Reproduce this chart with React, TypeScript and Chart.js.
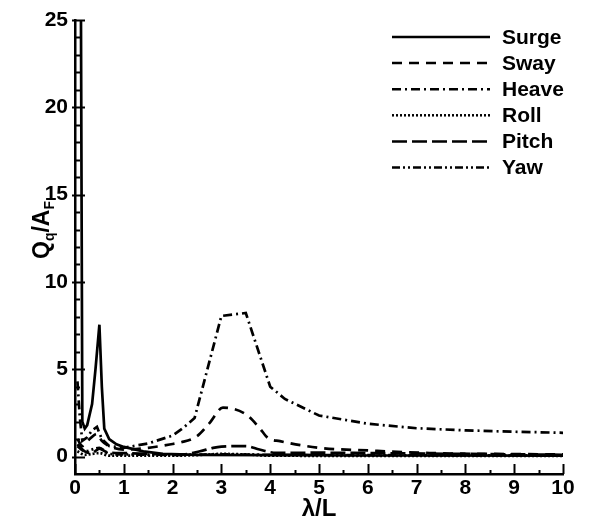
import { useEffect, useRef } from "react";
import { Chart, registerables } from "chart.js";

Chart.register(...registerables);

const seriesNames = ["Surge", "Sway", "Heave", "Roll", "Pitch", "Yaw"];

const surgeX = [0.12, 0.15, 0.2, 0.25, 0.35, 0.42, 0.5, 0.55, 0.6, 0.7, 0.85, 1.0, 1.4, 1.8, 2.5, 4, 6, 10];
const surgeY = [27, 2.0, 1.6, 1.8, 3.0, 5.0, 7.55, 4.0, 1.6, 1.0, 0.7, 0.55, 0.3, 0.15, 0.1, 0.08, 0.06, 0.05];

const swayX = [0.05, 0.15, 0.3, 0.45, 0.55, 0.7, 1.0, 1.5, 2.0, 2.15, 2.5, 2.76, 3.03, 3.5, 3.78, 3.95, 4.2, 5.0, 6.0, 7.26, 8.5, 10];
const swayY = [1.0, 0.6, 1.0, 1.3, 0.9, 0.6, 0.4, 0.5, 0.72, 0.8, 1.16, 1.93, 2.8, 2.42, 1.64, 1.07, 0.88, 0.5, 0.35, 0.2, 0.15, 0.12];

const heaveX = [0.05, 0.1, 0.15, 0.25, 0.35, 0.45, 0.55, 0.7, 1.0, 1.5, 2.0, 2.2, 2.45, 3.0, 3.5, 4.0, 4.3, 5.0, 6.0, 7.0, 8.0, 9.0, 10];
const heaveY = [4.3, 2.2, 0.9, 1.1, 1.5, 1.7, 1.0, 0.6, 0.5, 0.75, 1.2, 1.6, 2.2, 8.05, 8.22, 4.0, 3.3, 2.35, 1.88, 1.62, 1.5, 1.42, 1.36];

const rollX = [0.05, 0.2, 0.5, 0.7, 1, 2, 2.5, 3, 3.5, 4, 6, 10];
const rollY = [0.3, 0.1, 0.2, 0.05, 0.05, 0.05, 0.08, 0.15, 0.12, 0.05, 0.04, 0.03];

const pitchX = [0.05, 0.2, 0.35, 0.5, 0.65, 1.0, 1.5, 2.0, 2.15, 2.56, 2.83, 3.0, 3.5, 3.78, 4.12, 5, 6, 8, 10];
const pitchY = [0.7, 0.3, 0.2, 0.45, 0.25, 0.2, 0.15, 0.1, 0.1, 0.3, 0.5, 0.57, 0.6, 0.4, 0.21, 0.22, 0.2, 0.15, 0.1];

const yawX = [0.05, 0.2, 0.5, 0.7, 1.0, 2, 3, 4, 6, 10];
const yawY = [0.6, 0.3, 0.5, 0.15, 0.12, 0.1, 0.12, 0.1, 0.08, 0.06];

const xTickValues = [0, 1, 2, 3, 4, 5, 6, 7, 8, 9, 10];
const yTickValues = [0, 5, 10, 15, 20, 25];

const FONT = "'Liberation Sans', Arial, Helvetica, sans-serif";
const dashes: number[][] = [[], [10, 7], [9, 4, 2, 4], [2, 2], [15, 5], [8, 3, 2, 3, 2, 3]];
const tensions = [0, 0.3, 0, 0.3, 0.3, 0.3];

function pts(xs: number[], ys: number[]) {
  return xs.map((x, i) => ({ x, y: ys[i] }));
}

const decorPlugin = {
  id: "decor",
  afterDraw(chart: any) {
    const ctx = chart.ctx as CanvasRenderingContext2D;
    const xs = chart.scales.x;
    const ys = chart.scales.y;
    const { left, bottom } = chart.chartArea;
    ctx.save();
    ctx.strokeStyle = "#000";
    ctx.lineWidth = 2;
    ctx.setLineDash([]);
    // x ticks (inward)
    for (let i = 0; i <= 20; i++) {
      const v = i * 0.5;
      const px = Math.round(xs.getPixelForValue(v)) + 0.5;
      const major = i % 2 === 0;
      ctx.beginPath();
      ctx.moveTo(px, bottom);
      ctx.lineTo(px, bottom - (major ? 10 : 4));
      ctx.stroke();
    }
    // y ticks (inward)
    for (let v = 0; v <= 25; v++) {
      const py = Math.round(ys.getPixelForValue(v)) + 0.5;
      const major = v % 5 === 0;
      ctx.beginPath();
      ctx.moveTo(left - (major ? 3 : 0), py);
      ctx.lineTo(left + (major ? 10 : 5), py);
      ctx.stroke();
    }
    // legend
    const ds = chart.data.datasets;
    for (let i = 0; i < ds.length; i++) {
      const y = 37 + 26.1 * i;
      ctx.lineWidth = 2.5;
      ctx.setLineDash(dashes[i]);
      ctx.beginPath();
      ctx.moveTo(392, y);
      ctx.lineTo(490, y);
      ctx.stroke();
      ctx.setLineDash([]);
      ctx.fillStyle = "#000";
      ctx.font = `bold 21px ${FONT}`;
      ctx.textAlign = "left";
      ctx.textBaseline = "middle";
      ctx.fillText(ds[i].label, 502, y + 1);
    }
    // y title with subscripts
    const parts: [string, boolean][] = [["Q", false], ["q", true], ["/A", false], ["F", true]];
    const mainFont = `bold 23px ${FONT}`;
    const subFont = `bold 14px ${FONT}`;
    let total = 0;
    const widths: number[] = [];
    for (const [t, sub] of parts) {
      ctx.font = sub ? subFont : mainFont;
      const w = ctx.measureText(t).width;
      widths.push(w);
      total += w;
    }
    ctx.translate(49, 230);
    ctx.rotate(-Math.PI / 2);
    ctx.textAlign = "left";
    ctx.textBaseline = "alphabetic";
    let cx = -total / 2;
    parts.forEach(([t, sub], i) => {
      ctx.font = sub ? subFont : mainFont;
      ctx.fillText(t, cx, sub ? 5 : 0);
      cx += widths[i];
    });
    ctx.restore();
  },
};

export default function App() {
  const ref = useRef<HTMLCanvasElement>(null);
  useEffect(() => {
    if (!ref.current) return;
    const allX = [surgeX, swayX, heaveX, rollX, pitchX, yawX];
    const allY = [surgeY, swayY, heaveY, rollY, pitchY, yawY];
    const chart = new Chart(ref.current, {
      type: "line",
      data: {
        datasets: seriesNames.map((name, i) => ({
          label: name,
          data: pts(allX[i], allY[i]),
          borderColor: "#000",
          borderWidth: 2.7,
          borderDash: dashes[i],
          pointRadius: 0,
          tension: tensions[i],
          cubicInterpolationMode: i === 0 || i === 2 ? "default" : "monotone",
          fill: false,
        })),
      },
      options: {
        animation: false,
        responsive: false,
        devicePixelRatio: 1,
        layout: { padding: { left: 0, top: 20, right: 27, bottom: 0 } },
        plugins: { legend: { display: false }, tooltip: { enabled: false } },
        scales: {
          x: {
            type: "linear",
            min: 0,
            max: 10,
            afterFit: (s: any) => {
              s.height = 48;
            },
            afterBuildTicks: (s: any) => {
              s.ticks = xTickValues.map((v) => ({ value: v }));
            },
            ticks: {
              color: "#000",
              font: { family: FONT, size: 21, weight: "bold" },
              padding: 2,
              maxRotation: 0,
              autoSkip: false,
            },
            grid: { display: true, drawOnChartArea: false, drawTicks: false },
            border: { display: true, color: "#000", width: 2.5 },
            title: {
              display: true,
              text: "λ/L",
              color: "#000",
              font: { family: FONT, size: 24, weight: "bold" },
              padding: { top: 0, bottom: -2 },
            },
          },
          y: {
            type: "linear",
            min: -1,
            max: 25,
            afterFit: (s: any) => {
              s.width = 75;
            },
            afterBuildTicks: (s: any) => {
              s.ticks = yTickValues.map((v) => ({ value: v }));
            },
            ticks: {
              color: "#000",
              font: { family: FONT, size: 21, weight: "bold" },
              padding: 7,
              autoSkip: false,
            },
            grid: { display: true, drawOnChartArea: false, drawTicks: false },
            border: { display: true, color: "#000", width: 2.5 },
          },
        },
      },
      plugins: [decorPlugin],
    } as any);
    return () => chart.destroy();
  }, []);
  return (
    <div style={{ position: "absolute", left: 0, top: 0, width: 590, height: 522, background: "#fff" }}>
      <canvas ref={ref} width={590} height={522} style={{ display: "block", width: 590, height: 522 }} />
    </div>
  );
}
